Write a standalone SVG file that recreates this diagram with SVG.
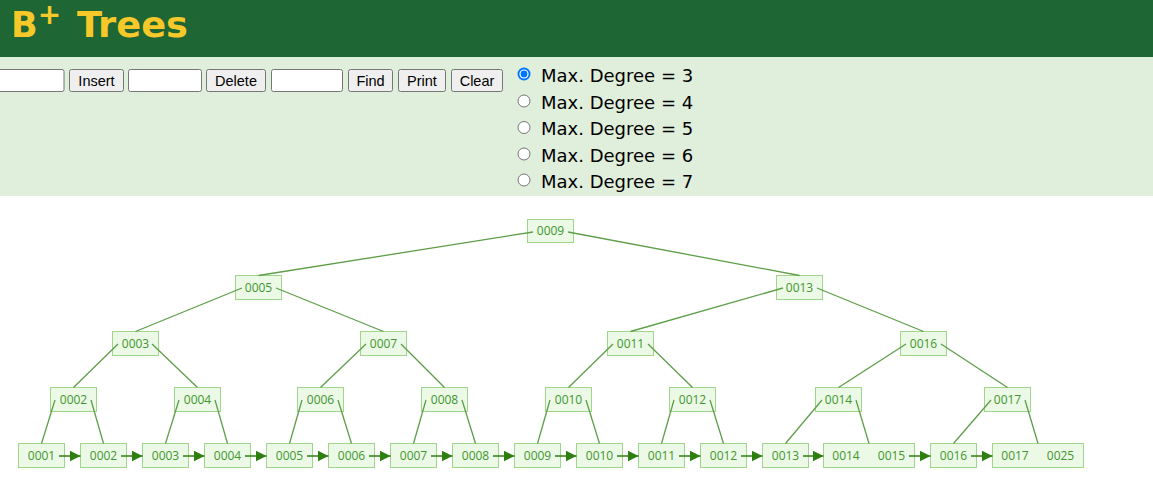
<svg xmlns="http://www.w3.org/2000/svg" width="1153" height="497" viewBox="0 0 1153 497">
  <defs>
    <style>
      .title { font-family: "DejaVu Sans", Verdana, sans-serif; font-weight: bold; fill: #f7c829; }
      .btn rect { fill: #efefef; stroke: #767676; stroke-width: 1; }
      .btn text { font-family: "Liberation Sans", Arial, sans-serif; font-size: 14.5px; fill: #000; text-anchor: middle; }
      .field { fill: #fff; stroke: #767676; stroke-width: 1; }
      .opt { font-family: "DejaVu Sans", Verdana, sans-serif; font-size: 18px; fill: #000; }
      .radio { fill: #fff; stroke: #767676; stroke-width: 1; }
      .node rect { fill: #ebf9e6; stroke: #9fd68c; stroke-width: 1; }
      .node text { font-family: "Open Sans", "Liberation Sans", sans-serif; font-size: 12px; fill: #3f962d; text-anchor: middle; }
      .edge { stroke: #5e9e48; stroke-width: 1.3; fill: none; }
      .link { stroke: #2d7f10; stroke-width: 1.5; fill: none; marker-end: url(#head); }
    </style>
    <marker id="head" viewBox="0 0 10 10" refX="10" refY="5" markerWidth="11" markerHeight="11" markerUnits="userSpaceOnUse" orient="auto">
      <path d="M0,0 L10,5 L0,10 Z" fill="#2d7f10"/>
    </marker>
  </defs>

  <!-- page header -->
  <rect x="0" y="0" width="1153" height="57" fill="#1e6634"/>
  <text class="title" x="11" y="37" font-size="35">B</text>
  <text class="title" x="49.5" y="24" font-size="28" text-anchor="middle">+</text>
  <text class="title" x="77" y="37" font-size="35" textLength="111" lengthAdjust="spacingAndGlyphs">Trees</text>

  <!-- control panel -->
  <rect x="0" y="57" width="1153" height="139" fill="#e0eedc"/>
  <rect class="field" x="-9" y="69.5" width="73" height="22" rx="2"/>
  <g class="btn"><rect x="69.5" y="69.5" width="54" height="22" rx="2"/><text x="96.5" y="86">Insert</text></g>
  <rect class="field" x="128.5" y="69.5" width="73" height="22" rx="2"/>
  <g class="btn"><rect x="206.5" y="69.5" width="59" height="22" rx="2"/><text x="236" y="86">Delete</text></g>
  <rect class="field" x="271.5" y="69.5" width="71" height="22" rx="2"/>
  <g class="btn"><rect x="348.5" y="69.5" width="44" height="22" rx="2"/><text x="370.5" y="86">Find</text></g>
  <g class="btn"><rect x="398.5" y="69.5" width="47" height="22" rx="2"/><text x="422" y="86">Print</text></g>
  <g class="btn"><rect x="451.5" y="69.5" width="51" height="22" rx="2"/><text x="477" y="86">Clear</text></g>

  <!-- degree options -->
  <circle cx="524" cy="74" r="6.5" fill="#0075ff"/>
  <circle cx="524" cy="74" r="4.6" fill="#fff"/>
  <circle cx="524" cy="74" r="3.4" fill="#0075ff"/>
  <circle class="radio" cx="524" cy="101" r="6"/>
  <circle class="radio" cx="524" cy="127.5" r="6"/>
  <circle class="radio" cx="524" cy="154" r="6"/>
  <circle class="radio" cx="524" cy="180" r="6"/>
  <text class="opt" x="541" y="82">Max. Degree = 3</text>
  <text class="opt" x="541" y="108.5">Max. Degree = 4</text>
  <text class="opt" x="541" y="135">Max. Degree = 5</text>
  <text class="opt" x="541" y="161.5">Max. Degree = 6</text>
  <text class="opt" x="541" y="188">Max. Degree = 7</text>

  <!-- tree nodes -->
  <g id="n-root" class="node"><rect x="527.5" y="219.5" width="46" height="23"/><text x="550.5" y="235">0009</text></g>

  <g id="n-0005" class="node"><rect x="235.5" y="275.5" width="46" height="24"/><text x="258.5" y="291.5">0005</text></g>
  <g id="n-0013" class="node"><rect x="776.5" y="275.5" width="46" height="24"/><text x="799.5" y="291.5">0013</text></g>

  <g id="n-0003" class="node"><rect x="112.5" y="331.5" width="46" height="24"/><text x="135.5" y="347.5">0003</text></g>
  <g id="n-0007" class="node"><rect x="360.5" y="331.5" width="46" height="24"/><text x="383.5" y="347.5">0007</text></g>
  <g id="n-0011" class="node"><rect x="607.5" y="331.5" width="46" height="24"/><text x="630.5" y="347.5">0011</text></g>
  <g id="n-0016" class="node"><rect x="900.5" y="331.5" width="46" height="24"/><text x="923.5" y="347.5">0016</text></g>

  <g id="n-0002" class="node"><rect x="50.5" y="387.5" width="46" height="24"/><text x="73.5" y="403.5">0002</text></g>
  <g id="n-0004" class="node"><rect x="174.5" y="387.5" width="46" height="24"/><text x="197.5" y="403.5">0004</text></g>
  <g id="n-0006" class="node"><rect x="297.5" y="387.5" width="46" height="24"/><text x="320.5" y="403.5">0006</text></g>
  <g id="n-0008" class="node"><rect x="421.5" y="387.5" width="46" height="24"/><text x="444.5" y="403.5">0008</text></g>
  <g id="n-0010" class="node"><rect x="545.5" y="387.5" width="46" height="24"/><text x="568.5" y="403.5">0010</text></g>
  <g id="n-0012" class="node"><rect x="669.5" y="387.5" width="46" height="24"/><text x="692.5" y="403.5">0012</text></g>
  <g id="n-0014" class="node"><rect x="815.5" y="387.5" width="46" height="24"/><text x="838.5" y="403.5">0014</text></g>
  <g id="n-0017" class="node"><rect x="984.5" y="387.5" width="46" height="24"/><text x="1007.5" y="403.5">0017</text></g>

  <!-- leaves -->
  <g id="leaf-0001" class="node"><rect x="18.5" y="443.5" width="46" height="24"/><text x="41.5" y="459.5">0001</text></g>
  <g id="leaf-0002" class="node"><rect x="80.5" y="443.5" width="46" height="24"/><text x="103.5" y="459.5">0002</text></g>
  <g id="leaf-0003" class="node"><rect x="142.5" y="443.5" width="46" height="24"/><text x="165.5" y="459.5">0003</text></g>
  <g id="leaf-0004" class="node"><rect x="204.5" y="443.5" width="46" height="24"/><text x="227.5" y="459.5">0004</text></g>
  <g id="leaf-0005" class="node"><rect x="266.5" y="443.5" width="46" height="24"/><text x="289.5" y="459.5">0005</text></g>
  <g id="leaf-0006" class="node"><rect x="328.5" y="443.5" width="46" height="24"/><text x="351.5" y="459.5">0006</text></g>
  <g id="leaf-0007" class="node"><rect x="390.5" y="443.5" width="46" height="24"/><text x="413.5" y="459.5">0007</text></g>
  <g id="leaf-0008" class="node"><rect x="452.5" y="443.5" width="46" height="24"/><text x="475.5" y="459.5">0008</text></g>
  <g id="leaf-0009" class="node"><rect x="514.5" y="443.5" width="46" height="24"/><text x="537.5" y="459.5">0009</text></g>
  <g id="leaf-0010" class="node"><rect x="576.5" y="443.5" width="46" height="24"/><text x="599.5" y="459.5">0010</text></g>
  <g id="leaf-0011" class="node"><rect x="638.5" y="443.5" width="46" height="24"/><text x="661.5" y="459.5">0011</text></g>
  <g id="leaf-0012" class="node"><rect x="700.5" y="443.5" width="46" height="24"/><text x="723.5" y="459.5">0012</text></g>
  <g id="leaf-0013" class="node"><rect x="762.5" y="443.5" width="46" height="24"/><text x="785.5" y="459.5">0013</text></g>
  <g id="leaf-0014-0015" class="node"><rect x="823.5" y="443.5" width="91" height="24"/><text x="846" y="459.5">0014</text><text x="891.5" y="459.5">0015</text></g>
  <g id="leaf-0016" class="node"><rect x="930.5" y="443.5" width="46" height="24"/><text x="953.5" y="459.5">0016</text></g>
  <g id="leaf-0017-0025" class="node"><rect x="992.5" y="443.5" width="91" height="24"/><text x="1015" y="459.5">0017</text><text x="1060.5" y="459.5">0025</text></g>

  <!-- connectors: child pointers and leaf chain -->
  <g id="connectors">
    <line class="edge" x1="533" y1="232" x2="258.5" y2="275.5"/>
    <line class="edge" x1="568" y1="232" x2="799.5" y2="275.5"/>

    <line class="edge" x1="242" y1="288" x2="135.5" y2="331.5"/>
    <line class="edge" x1="276" y1="288" x2="383.5" y2="331.5"/>
    <line class="edge" x1="783" y1="288" x2="630.5" y2="331.5"/>
    <line class="edge" x1="817" y1="288" x2="923.5" y2="331.5"/>

    <line class="edge" x1="118" y1="344" x2="73.5" y2="387.5"/>
    <line class="edge" x1="152" y1="344" x2="197.5" y2="387.5"/>
    <line class="edge" x1="366" y1="344" x2="320.5" y2="387.5"/>
    <line class="edge" x1="401" y1="344" x2="444.5" y2="387.5"/>
    <line class="edge" x1="613" y1="344" x2="568.5" y2="387.5"/>
    <line class="edge" x1="648" y1="344" x2="692.5" y2="387.5"/>
    <line class="edge" x1="906" y1="344" x2="838.5" y2="387.5"/>
    <line class="edge" x1="941" y1="344" x2="1007.5" y2="387.5"/>

    <line class="edge" x1="55" y1="400" x2="41.5" y2="443.5"/>
    <line class="edge" x1="91" y1="400" x2="103.5" y2="443.5"/>
    <line class="edge" x1="179" y1="400" x2="165.5" y2="443.5"/>
    <line class="edge" x1="215" y1="400" x2="227.5" y2="443.5"/>
    <line class="edge" x1="302" y1="400" x2="289.5" y2="443.5"/>
    <line class="edge" x1="338" y1="400" x2="351.5" y2="443.5"/>
    <line class="edge" x1="426" y1="400" x2="413.5" y2="443.5"/>
    <line class="edge" x1="462" y1="400" x2="475.5" y2="443.5"/>
    <line class="edge" x1="550" y1="400" x2="537.5" y2="443.5"/>
    <line class="edge" x1="586" y1="400" x2="599.5" y2="443.5"/>
    <line class="edge" x1="674" y1="400" x2="661.5" y2="443.5"/>
    <line class="edge" x1="710" y1="400" x2="723.5" y2="443.5"/>
    <line class="edge" x1="822" y1="400" x2="785.5" y2="443.5"/>
    <line class="edge" x1="856" y1="400" x2="869" y2="443.5"/>
    <line class="edge" x1="991" y1="400" x2="953.5" y2="443.5"/>
    <line class="edge" x1="1025" y1="400" x2="1038" y2="443.5"/>

    <line class="link" x1="59" y1="456" x2="80.5" y2="456"/>
    <line class="link" x1="121" y1="456" x2="142.5" y2="456"/>
    <line class="link" x1="183" y1="456" x2="204.5" y2="456"/>
    <line class="link" x1="245" y1="456" x2="266.5" y2="456"/>
    <line class="link" x1="307" y1="456" x2="328.5" y2="456"/>
    <line class="link" x1="369" y1="456" x2="390.5" y2="456"/>
    <line class="link" x1="431" y1="456" x2="452.5" y2="456"/>
    <line class="link" x1="493" y1="456" x2="514.5" y2="456"/>
    <line class="link" x1="555" y1="456" x2="576.5" y2="456"/>
    <line class="link" x1="617" y1="456" x2="638.5" y2="456"/>
    <line class="link" x1="679" y1="456" x2="700.5" y2="456"/>
    <line class="link" x1="741" y1="456" x2="762.5" y2="456"/>
    <line class="link" x1="803" y1="456" x2="823.5" y2="456"/>
    <line class="link" x1="909" y1="456" x2="930.5" y2="456"/>
    <line class="link" x1="971" y1="456" x2="992.5" y2="456"/>
  </g>
</svg>
